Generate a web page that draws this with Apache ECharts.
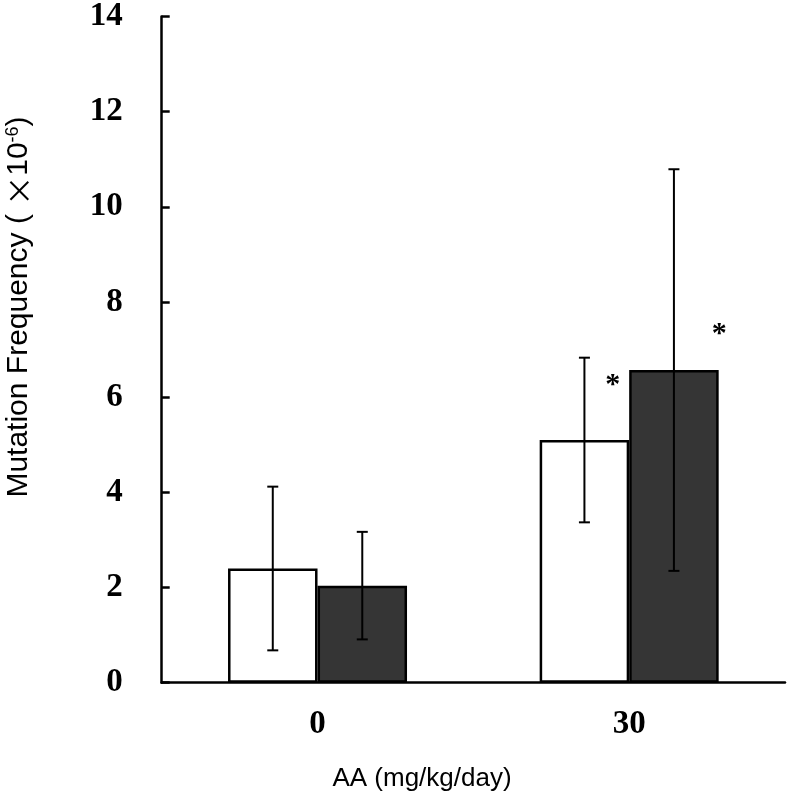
<!DOCTYPE html>
<html>
<head>
<meta charset="utf-8">
<script src="https://cdn.jsdelivr.net/npm/echarts@6/dist/echarts.min.js"></script>
<style>html,body{margin:0;padding:0;background:#fff;}#c{width:788px;height:799px;}</style>
</head>
<body>
<div id="c"></div>
<script>
var categories = ['0', '30'];
var whiteMeans = [2.40, 5.10];
var whiteSD = [1.72, 1.73];
var darkMeans = [2.04, 6.57];
var darkSD = [1.13, 4.22];
var yTicks = [0, 2, 4, 6, 8, 10, 12, 14];
// significance markers: [categoryIndex, seriesIndex, yValue]
var stars = [[1, 0, 6.34], [1, 1, 7.40]];

var BAR_W = 89.5;
var chart = echarts.init(document.getElementById('c'), null, {renderer: 'canvas'});

var errData = [];
for (var i = 0; i < categories.length; i++) {
  errData.push([i, whiteMeans[i] - whiteSD[i], whiteMeans[i] + whiteSD[i], 0]);
  errData.push([i, darkMeans[i] - darkSD[i], darkMeans[i] + darkSD[i], 1]);
}

var option = {
  animation: false,
  backgroundColor: '#ffffff',
  grid: {left: 161.7, right: 3, top: 13, bottom: 116.3, containLabel: false},
  xAxis: {
    type: 'category',
    data: categories,
    boundaryGap: true,
    axisLine: {lineStyle: {color: '#000', width: 2.5}},
    axisTick: {inside: true, length: 8, lineStyle: {color: '#000', width: 2.5}},
    axisLabel: {color: '#000', fontFamily: 'Liberation Serif', fontWeight: 'bold', fontSize: 33, margin: 25}
  },
  yAxis: {
    type: 'value',
    min: yTicks[0],
    max: yTicks[yTicks.length - 1],
    interval: 2,
    splitLine: {show: false},
    axisLine: {show: true, lineStyle: {color: '#000', width: 2.5}},
    axisTick: {show: true, inside: true, length: 8, lineStyle: {color: '#000', width: 2.5}},
    axisLabel: {color: '#000', fontFamily: 'Liberation Serif', fontWeight: 'bold', fontSize: 33, margin: 39}
  },
  graphic: [
    {
      type: 'text',
      x: 19, y: 307,
      rotation: Math.PI / 2,
      style: {
        text: '{a|Mutation Frequency ( }{x|\u00D7}{a|10}{s|-6}{a|)}',
        align: 'center',
        verticalAlign: 'middle',
        fill: '#000',
        rich: {
          a: {fontFamily: 'Liberation Sans', fontSize: 30, fill: '#000', color: '#000'},
          x: {fontFamily: 'Noto Sans CJK SC', fontSize: 30, fill: '#000', color: '#000'},
          s: {fontFamily: 'Liberation Sans', fontSize: 18, verticalAlign: 'top', fill: '#000', color: '#000'}
        }
      }
    },
    {
      type: 'text',
      x: 422, y: 779,
      style: {
        text: 'AA (mg/kg/day)',
        align: 'center',
        verticalAlign: 'middle',
        fontFamily: 'Liberation Sans',
        fontSize: 26,
        fill: '#000'
      }
    }
  ],
  series: [
    {
      type: 'bar',
      data: whiteMeans,
      barWidth: BAR_W,
      barGap: '0%',
      itemStyle: {color: '#ffffff', borderColor: '#000', borderWidth: 2.5}
    },
    {
      type: 'bar',
      data: darkMeans,
      barWidth: BAR_W,
      barGap: '0%',
      itemStyle: {color: '#353535', borderColor: '#000', borderWidth: 2.5}
    },
    {
      type: 'custom',
      data: errData,
      z: 10,
      renderItem: function (params, api) {
        var cat = api.value(0), lo = api.value(1), hi = api.value(2), s = api.value(3);
        var off = (s === 0 ? -1 : 1) * BAR_W / 2;
        var pLo = api.coord([cat, lo]);
        var pHi = api.coord([cat, hi]);
        var x = pLo[0] + off;
        var cap = 5.5;
        var st = {stroke: '#000', lineWidth: 2};
        return {
          type: 'group',
          children: [
            {type: 'line', shape: {x1: x, y1: pLo[1], x2: x, y2: pHi[1]}, style: st},
            {type: 'line', shape: {x1: x - cap, y1: pLo[1], x2: x + cap, y2: pLo[1]}, style: st},
            {type: 'line', shape: {x1: x - cap, y1: pHi[1], x2: x + cap, y2: pHi[1]}, style: st}
          ]
        };
      }
    },
    {
      type: 'custom',
      data: stars,
      z: 11,
      renderItem: function (params, api) {
        var cat = api.value(0), s = api.value(1), v = api.value(2);
        var p = api.coord([cat, v]);
        var x = p[0] + (s === 0 ? -16.5 : 90);
        return {
          type: 'text',
          x: x, y: p[1] + 4,
          style: {text: '*', fontFamily: 'Liberation Serif', fontWeight: 'bold', fontSize: 30, fill: '#000', align: 'center', verticalAlign: 'middle'}
        };
      }
    }
  ]
};
chart.setOption(option);
</script>
</body>
</html>
